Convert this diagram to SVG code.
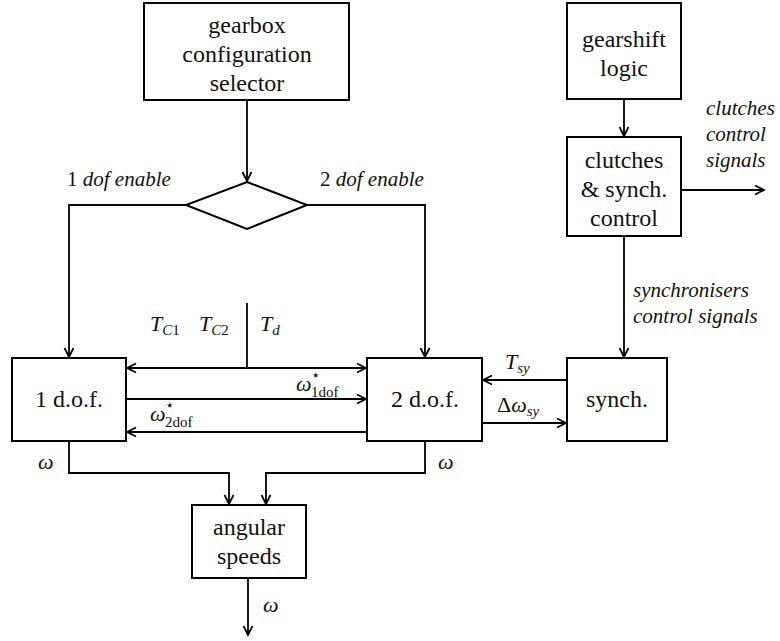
<svg xmlns="http://www.w3.org/2000/svg" width="780" height="641" viewBox="0 0 780 641">
<defs>
<marker id="arr" markerWidth="12" markerHeight="12" refX="10" refY="6" orient="auto-start-reverse" markerUnits="userSpaceOnUse">
<path d="M1,1.5 L10,6 L1,10.5" fill="none" stroke="#000" stroke-width="1.7"/>
</marker>
<style>
.box{fill:#fff;stroke:#000;stroke-width:2}
.ln{fill:none;stroke:#000;stroke-width:1.8}
text{font-family:"Liberation Serif","Times New Roman",serif;fill:#111}
.t{font-size:24px;text-anchor:middle}
.it{font-size:21px;font-style:italic}
.m{font-size:22px;font-style:italic}
.s{font-size:15px}
.up{font-style:normal}
</style>
</defs>
<rect width="780" height="641" fill="#fff"/>
<g id="connectors">
<path class="ln" d="M247,100 V181" marker-end="url(#arr)"/>
<path class="ln" d="M186,205 H69 V357" marker-end="url(#arr)"/>
<path class="ln" d="M307,205 H425 V357" marker-end="url(#arr)"/>
<path class="ln" d="M127,368 H366" marker-start="url(#arr)" marker-end="url(#arr)"/>
<path class="ln" d="M247,303 V368"/>
<path class="ln" d="M126,399 H366" marker-end="url(#arr)"/>
<path class="ln" d="M367,432 H127" marker-end="url(#arr)"/>
<path class="ln" d="M567,380 H483" marker-end="url(#arr)"/>
<path class="ln" d="M482,423 H566" marker-end="url(#arr)"/>
<path class="ln" d="M624,99 V136" marker-end="url(#arr)"/>
<path class="ln" d="M681,190 H764" marker-end="url(#arr)"/>
<path class="ln" d="M624,236 V357" marker-end="url(#arr)"/>
<path class="ln" d="M69,441 V473 H229 V504" marker-end="url(#arr)"/>
<path class="ln" d="M425,441 V473 H266 V504" marker-end="url(#arr)"/>
<path class="ln" d="M248,578 V635" marker-end="url(#arr)"/>
</g>
<g id="gearbox">
<rect class="box" x="144" y="3" width="205" height="97"/>
<text class="t" x="247" y="33">gearbox</text>
<text class="t" x="247" y="62">configuration</text>
<text class="t" x="247" y="91">selector</text>
</g>
<g id="decision">
<polygon class="box" points="247,182 307,205 247,229 186,205"/>
</g>
<g id="enable-labels">
<text class="it" x="67" y="186"><tspan class="up">1 </tspan>dof enable</text>
<text class="it" x="320" y="186"><tspan class="up">2 </tspan>dof enable</text>
</g>
<g id="dof1">
<rect class="box" x="12" y="358" width="114" height="83"/>
<text class="t" x="69" y="407">1 d.o.f.</text>
</g>
<g id="dof2">
<rect class="box" x="367" y="358" width="115" height="83"/>
<text class="t" x="425" y="407">2 d.o.f.</text>
</g>
<g id="synch">
<rect class="box" x="567" y="358" width="100" height="83"/>
<text class="t" x="617" y="407">synch.</text>
</g>
<g id="gearshift">
<rect class="box" x="567" y="3" width="114" height="96"/>
<text class="t" x="624" y="47">gearshift</text>
<text class="t" x="624" y="76">logic</text>
</g>
<g id="clutches">
<rect class="box" x="567" y="137" width="114" height="99"/>
<text class="t" x="624" y="168">clutches</text>
<text class="t" x="624" y="197">&amp; synch.</text>
<text class="t" x="624" y="226">control</text>
</g>
<g id="angular">
<rect class="box" x="192" y="505" width="114" height="73"/>
<text class="t" x="249" y="535">angular</text>
<text class="t" x="249" y="564">speeds</text>
</g>
<g id="signal-labels">
<text class="it" x="706" y="115">clutches</text>
<text class="it" x="706" y="141">control</text>
<text class="it" x="706" y="167">signals</text>
<text class="it" x="633" y="297">synchronisers</text>
<text class="it" x="633" y="323">control signals</text>
<text class="m" x="150" y="331">T<tspan class="s" dy="4">C</tspan><tspan class="s up">1</tspan></text>
<text class="m" x="199" y="331">T<tspan class="s" dy="4">C</tspan><tspan class="s up">2</tspan></text>
<text class="m" x="260" y="331">T<tspan class="s" dy="4">d</tspan></text>
<text class="m" x="296" y="391">ω</text>
<text class="s" x="311" y="380">⋆</text>
<text class="s" x="311" y="397">1dof</text>
<text class="m" x="150" y="421">ω</text>
<text class="s" x="165" y="410">⋆</text>
<text class="s" x="165" y="427">2dof</text>
<text class="m" x="505" y="369">T<tspan class="s" dy="4">sy</tspan></text>
<text class="m" x="497" y="412"><tspan class="up">Δ</tspan>ω<tspan class="s" dy="4">sy</tspan></text>
<text class="m" x="38" y="469">ω</text>
<text class="m" x="438" y="469">ω</text>
<text class="m" x="263" y="612">ω</text>
</g>
</svg>
